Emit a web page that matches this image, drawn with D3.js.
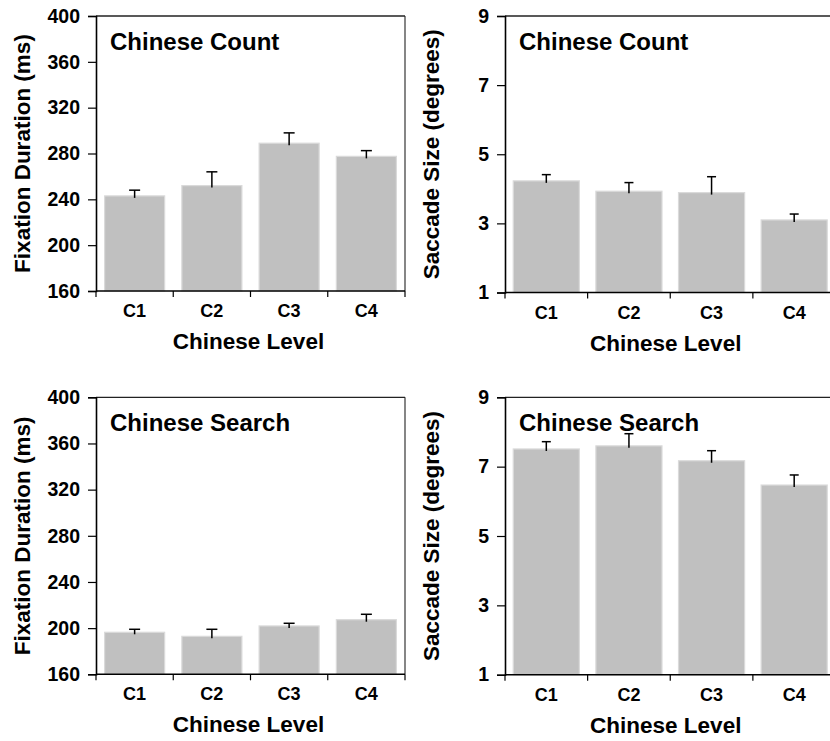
<!DOCTYPE html>
<html>
<head>
<meta charset="utf-8">
<script src="https://cdn.jsdelivr.net/npm/d3@7"></script>
<style>
  html, body { margin: 0; padding: 0; background: #fff; }
  svg { display: block; font-family: "Liberation Sans", Arial, Helvetica, sans-serif; font-weight: bold; }
</style>
</head>
<body>
<svg id="chart" width="830" height="741"></svg>
<script>
// Proficiency groups shown on every x axis
const categories = ["C1", "C2", "C3", "C4"];

// Tick labels for the two kinds of y axis
const fixationTicks = [160, 200, 240, 280, 320, 360, 400];
const saccadeTicks = [1, 3, 5, 7, 9];

// Chinese Count task
const countFixation = [243, 252, 289, 277.5];
const countFixationErr = [5, 12, 9, 5];
const countSaccade = [4.23, 3.93, 3.89, 3.10];
const countSaccadeErr = [0.18, 0.25, 0.46, 0.17];

// Chinese Search task
const searchFixation = [196.4, 192.9, 201.9, 207.3];
const searchFixationErr = [2.6, 6.1, 2.3, 4.7];
const searchSaccade = [7.51, 7.60, 7.17, 6.47];
const searchSaccadeErr = [0.21, 0.35, 0.29, 0.29];

const svg = d3.select("#chart");

const panels = [
  { title: "Chinese Count", yTitle: "Fixation Duration (ms)", values: countFixation, errors: countFixationErr,
    ticks: fixationTicks, x0: 96, x1: 405, y0: 16, y1: 291, pad: 0.223, cap: 11, rightBorder: true },
  { title: "Chinese Count", yTitle: "Saccade Size (degrees)", values: countSaccade, errors: countSaccadeErr,
    ticks: saccadeTicks, x0: 505, x1: 835.5, y0: 16, y1: 292.5, pad: 0.2, cap: 9, rightBorder: false },
  { title: "Chinese Search", yTitle: "Fixation Duration (ms)", values: searchFixation, errors: searchFixationErr,
    ticks: fixationTicks, x0: 96, x1: 405, y0: 397.3, y1: 674.3, pad: 0.223, cap: 11, rightBorder: true },
  { title: "Chinese Search", yTitle: "Saccade Size (degrees)", values: searchSaccade, errors: searchSaccadeErr,
    ticks: saccadeTicks, x0: 505, x1: 835.5, y0: 397.3, y1: 674.7, pad: 0.2, cap: 9, rightBorder: false }
];

panels.forEach(p => {
  const g = svg.append("g");
  const x = d3.scaleBand().domain(categories).range([p.x0, p.x1]).paddingInner(p.pad).paddingOuter(p.pad / 2);
  const y = d3.scaleLinear().domain([p.ticks[0], p.ticks[p.ticks.length - 1]]).range([p.y1, p.y0]);

  // frame: top and right borders
  g.append("line").attr("x1", p.x0).attr("x2", p.x1).attr("y1", p.y0).attr("y2", p.y0)
    .attr("stroke", "#222").attr("stroke-width", 1.3);
  if (p.rightBorder) {
    g.append("line").attr("x1", p.x1).attr("x2", p.x1).attr("y1", p.y0).attr("y2", p.y1)
      .attr("stroke", "#222").attr("stroke-width", 1.1);
  }

  // bars
  g.selectAll("rect.bar").data(p.values).join("rect")
    .attr("class", "bar")
    .attr("x", (d, i) => x(categories[i]))
    .attr("width", x.bandwidth())
    .attr("y", d => y(d))
    .attr("height", d => y(p.ticks[0]) - y(d))
    .attr("fill", "#c0c0c0")
    .attr("stroke", "#dadada")
    .attr("stroke-width", 1.2);

  // error bars (upper half only)
  const eb = g.selectAll("g.err").data(p.values).join("g").attr("class", "err");
  eb.append("line")
    .attr("x1", (d, i) => x(categories[i]) + x.bandwidth() / 2)
    .attr("x2", (d, i) => x(categories[i]) + x.bandwidth() / 2)
    .attr("y1", d => y(d) + 2)
    .attr("y2", (d, i) => y(d + p.errors[i]))
    .attr("stroke", "#000").attr("stroke-width", 1.5);
  eb.append("line")
    .attr("x1", (d, i) => x(categories[i]) + x.bandwidth() / 2 - p.cap / 2)
    .attr("x2", (d, i) => x(categories[i]) + x.bandwidth() / 2 + p.cap / 2)
    .attr("y1", (d, i) => y(d + p.errors[i]))
    .attr("y2", (d, i) => y(d + p.errors[i]))
    .attr("stroke", "#000").attr("stroke-width", 1.5);

  // y axis
  const yAxis = g.append("g").attr("transform", `translate(${p.x0},0)`)
    .call(d3.axisLeft(y).tickValues(p.ticks).tickSize(8).tickPadding(8).tickFormat(d3.format("d")));
  yAxis.select(".domain").attr("stroke", "#000").attr("stroke-width", 1.6);
  yAxis.selectAll(".tick line").attr("stroke", "#000").attr("stroke-width", 1.2);
  yAxis.selectAll(".tick text").attr("font-size", 19.5).attr("font-weight", "bold")
    .attr("font-family", "Liberation Sans, Arial, sans-serif").attr("fill", "#000");

  // x axis: ticks sit at the band boundaries
  const bottom = g.append("g");
  bottom.append("line").attr("x1", p.x0).attr("x2", p.x1).attr("y1", p.y1).attr("y2", p.y1)
    .attr("stroke", "#000").attr("stroke-width", 1.6);
  const step = x.step();
  const bounds = d3.range(categories.length + 1).map(i => p.x0 + i * step);
  bottom.selectAll("line.xt").data(bounds).join("line").attr("class", "xt")
    .attr("x1", d => d).attr("x2", d => d).attr("y1", p.y1).attr("y2", p.y1 + 6)
    .attr("stroke", "#000").attr("stroke-width", 1.2);
  bottom.selectAll("text.xl").data(categories).join("text").attr("class", "xl")
    .attr("x", d => x(d) + x.bandwidth() / 2)
    .attr("y", p.y1 + 26)
    .attr("text-anchor", "middle").attr("font-size", 18).text(d => d);

  // axis titles
  g.append("text")
    .attr("x", (p.x0 + p.x1 - (p.rightBorder ? 0 : 5)) / 2 - 2)
    .attr("y", p.y1 + 58)
    .attr("text-anchor", "middle").attr("font-size", 22.5).text("Chinese Level");
  g.append("text")
    .attr("transform", `translate(${p.x0 - 66},${(p.y0 + p.y1) / 2}) rotate(-90)`)
    .attr("text-anchor", "middle").attr("font-size", 22.5).text(p.yTitle);

  // panel title
  g.append("text").attr("x", p.x0 + 14).attr("y", p.y0 + 33.5)
    .attr("font-size", 24).text(p.title);
});
</script>
</body>
</html>
